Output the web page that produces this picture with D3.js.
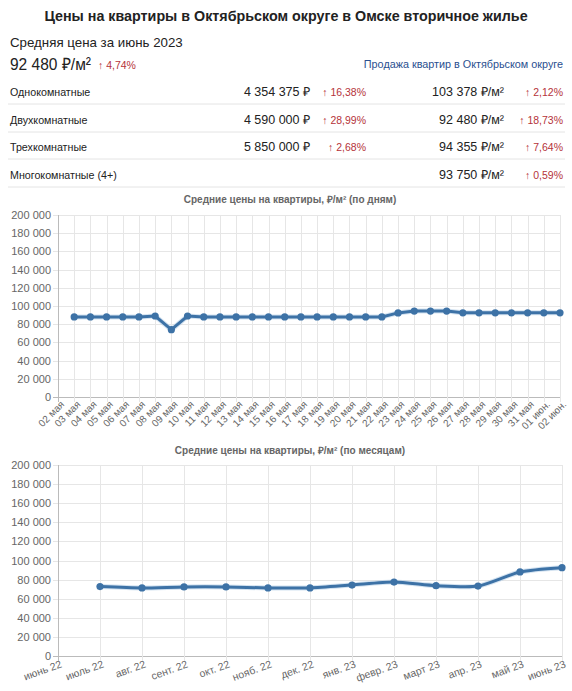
<!DOCTYPE html>
<html><head><meta charset="utf-8">
<script src="https://cdn.jsdelivr.net/npm/d3@7"></script>
<style>
body{margin:0;background:#fff;}
svg{display:block;font-family:"Liberation Sans",Arial,sans-serif;}
</style></head>
<body>
<svg id="c" width="572" height="691"></svg>
<script>
const rowLabels = ["Однокомнатные","Двухкомнатные","Трехкомнатные","Многокомнатные (4+)"];
const rowPrice = ["4 354 375 ₽","4 590 000 ₽","5 850 000 ₽",""];
const rowPriceChg = ["↑ 16,38%","↑ 28,99%","↑ 2,68%",""];
const rowSqm = ["103 378 ₽/м²","92 480 ₽/м²","94 355 ₽/м²","93 750 ₽/м²"];
const rowSqmChg = ["↑ 2,12%","↑ 18,73%","↑ 7,64%","↑ 0,59%"];

const dayLabels = ["02 мая","03 мая","04 мая","05 мая","06 мая","07 мая","08 мая","09 мая","10 мая","11 мая","12 мая","13 мая","14 мая","15 мая","16 мая","17 мая","18 мая","19 мая","20 мая","21 мая","22 мая","23 мая","24 мая","25 мая","26 мая","27 мая","28 мая","29 мая","30 мая","31 мая","01 июн.","02 июн."];
const dayValues = [null,88000,88000,88000,88000,88000,89000,74000,89000,88000,88000,88000,88000,88000,88000,88000,88000,88000,88000,88000,88000,92400,94400,94400,94400,92480,92480,92480,92480,92480,92480,92480];

const monthLabels = ["июнь 22","июль 22","авг. 22","сент. 22","окт. 22","нояб. 22","дек. 22","янв. 23","февр. 23","март 23","апр. 23","май 23","июнь 23"];
const monthValues = [null,72700,71300,72300,72300,71300,71300,74300,77400,73600,73200,88000,92480];

const yTicks = [0,20000,40000,60000,80000,100000,120000,140000,160000,180000,200000];

const svg = d3.select("#c");
const red = "#b5333a", gray = "#666", lineC = "#3d72a6";

// Header
svg.append("text").attr("x",286).attr("y",21).attr("text-anchor","middle")
  .attr("font-size",14.3).attr("font-weight","bold").attr("fill","#222")
  .text("Цены на квартиры в Октябрьском округе в Омске вторичное жилье");
svg.append("text").attr("x",10).attr("y",47).attr("font-size",13.3).attr("fill","#222")
  .text("Средняя цена за июнь 2023");
svg.append("text").attr("x",10).attr("y",70).attr("font-size",17).attr("fill","#222")
  .attr("textLength",81).attr("lengthAdjust","spacingAndGlyphs")
  .text("92 480 ₽/м²");
svg.append("text").attr("x",98).attr("y",69).attr("font-size",10.5).attr("fill",red)
  .text("↑ 4,74%");
svg.append("text").attr("x",563).attr("y",68).attr("text-anchor","end").attr("font-size",10.8).attr("fill","#2a4f8f")
  .text("Продажа квартир в Октябрьском округе");

// Table
const rowY = [92,120,147,175];
rowLabels.forEach((l,i)=>{
  const g = svg.append("g");
  g.append("text").attr("x",10).attr("y",rowY[i]+4).attr("font-size",10.7).attr("fill","#222").text(l);
  g.append("text").attr("x",310).attr("y",rowY[i]+4).attr("text-anchor","end").attr("font-size",12.5).attr("fill","#222").text(rowPrice[i]);
  g.append("text").attr("x",366).attr("y",rowY[i]+4).attr("text-anchor","end").attr("font-size",10.5).attr("fill",red).text(rowPriceChg[i]);
  g.append("text").attr("x",504).attr("y",rowY[i]+4).attr("text-anchor","end").attr("font-size",12.5).attr("fill","#222").text(rowSqm[i]);
  g.append("text").attr("x",563).attr("y",rowY[i]+4).attr("text-anchor","end").attr("font-size",10.5).attr("fill",red).text(rowSqmChg[i]);
  svg.append("line").attr("x1",8).attr("x2",565).attr("y1",rowY[i]+12).attr("y2",rowY[i]+12)
    .attr("stroke","#e4e4e4").attr("stroke-width",1);
});

const fmt = d => d3.format(",")(d).replace(/,/g," ");

function chart(opt){
  const {labels, values, x0, x1, yTop, yBot, title, titleY, rot, curve, lblDy} = opt;
  const x = d3.scalePoint().domain(labels).range([x0,x1]);
  const y = d3.scaleLinear().domain([0,200000]).range([yBot,yTop]);
  const g = svg.append("g");
  g.append("text").attr("x",290).attr("y",titleY).attr("text-anchor","middle")
    .attr("font-size",10).attr("font-weight","bold").attr("fill",gray).text(title);
  g.selectAll(".hg").data(yTicks).join("line")
    .attr("x1",x0-5).attr("x2",x1).attr("y1",d=>Math.round(y(d))+0.5).attr("y2",d=>Math.round(y(d))+0.5)
    .attr("stroke",d=>d===0?"#bbb":"#e6e6e6");
  g.selectAll(".vg").data(labels).join("line")
    .attr("x1",d=>Math.round(x(d))+0.5).attr("x2",d=>Math.round(x(d))+0.5)
    .attr("y1",yTop).attr("y2",yBot+5)
    .attr("stroke",(d,i)=>i===0?"#bbb":"#e6e6e6");
  g.selectAll(".yl").data(yTicks).join("text")
    .attr("x",x0-7).attr("y",d=>y(d)+4).attr("text-anchor","end")
    .attr("font-size",11).attr("fill",gray).text(fmt);
  g.selectAll(".xl").data(labels).join("text")
    .attr("transform",d=>`translate(${x(d)+2},${yBot+lblDy}) rotate(${rot})`)
    .attr("text-anchor","end").attr("dy","0.7em")
    .attr("font-size",opt.xfs).attr("fill",gray).text(d=>d);
  const data = labels.map((l,i)=>({l,v:values[i]}));
  const line = d3.line().defined(d=>d.v!=null).x(d=>x(d.l)).y(d=>y(d.v)).curve(curve);
  g.append("path").datum(data).attr("d",line).attr("fill","none")
    .attr("stroke","#a9c7e3").attr("stroke-width",5).attr("stroke-opacity",0.5);
  g.append("path").datum(data).attr("d",line).attr("fill","none")
    .attr("stroke",lineC).attr("stroke-width",3);
  g.selectAll(".pt").data(data.filter(d=>d.v!=null)).join("circle")
    .attr("cx",d=>x(d.l)).attr("cy",d=>y(d.v)).attr("r",3.6).attr("fill",lineC);
}

chart({labels:dayLabels, values:dayValues, x0:58, x1:560, yTop:215, yBot:397,
  title:"Средние цены на квартиры, ₽/м² (по дням)", titleY:203, rot:-45,
  curve:d3.curveLinear, lblDy:3, xfs:10});
chart({labels:monthLabels, values:monthValues, x0:58, x1:562, yTop:465, yBot:656,
  title:"Средние цены на квартиры, ₽/м² (по месяцам)", titleY:454, rot:-20,
  curve:d3.curveCardinal.tension(0.3), lblDy:4, xfs:10.5});
</script>
</body></html>
